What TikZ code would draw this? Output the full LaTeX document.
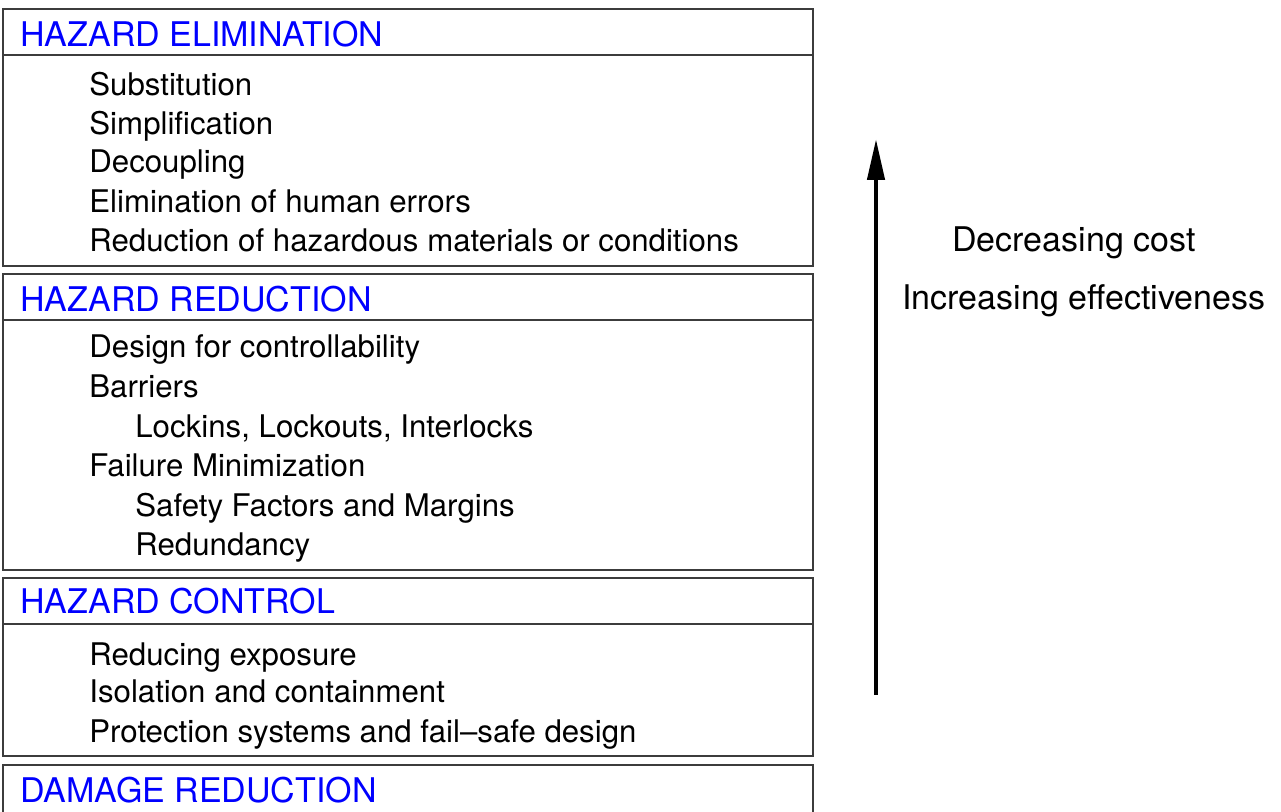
\documentclass[tikz,border=0pt]{standalone}
\usepackage{fontspec}
\setmainfont{TeX Gyre Heros}
\usetikzlibrary{arrows.meta}
\definecolor{levelblue}{RGB}{0,0,255}
\definecolor{framegray}{RGB}{60,60,60}

\tikzset{
  frame/.style={draw=framegray, line width=0.6pt},
  level/.style={levelblue, anchor=base west, inner sep=0pt},
  measure/.style={anchor=base west, inner sep=0pt, font=\fontsize{15.6}{18}\selectfont},
  trend/.style={anchor=base west, inner sep=0pt},
}

\begin{document}
\begin{tikzpicture}[x=0.5pt, y=-0.5pt, font=\fontsize{17}{20}\selectfont]
  \clip (0,0) rectangle (1281,812);

  % the four levels, each a header bar over a list
  \draw[frame] (3,9) rectangle (813,266);
  \draw[frame] (3,55) -- (813,55);
  \draw[frame] (3,274) rectangle (813,570);
  \draw[frame] (3,320) -- (813,320);
  \draw[frame] (3,578) rectangle (813,756);
  \draw[frame] (3,624) -- (813,624);
  \draw[frame] (3,765) rectangle (813,840);

  \node[level] (elim) at (20,47) {HAZARD ELIMINATION};
  \node[measure] (subst) at (89,96) {Substitution};
  \node[measure] (simpl) at (89,135) {Simplification};
  \node[measure] (decoup) at (89,173) {Decoupling};
  \node[measure] (human) at (89,213) {Elimination of human errors};
  \node[measure] (materials) at (89,252) {Reduction of hazardous materials or conditions};

  \node[level] (red) at (20,312) {HAZARD REDUCTION};
  \node[measure] (control) at (89,358) {Design for controllability};
  \node[measure] (barriers) at (89,398) {Barriers};
  \node[measure] (locks) at (135,438) {Lockins, Lockouts, Interlocks};
  \node[measure] (failure) at (89,477) {Failure Minimization};
  \node[measure] (margins) at (135,517) {Safety Factors and Margins};
  \node[measure] (redund) at (135,556) {Redundancy};

  \node[level] (ctrl) at (20,614) {HAZARD CONTROL};
  \node[measure] (exposure) at (89,666) {Reducing exposure};
  \node[measure] (isolation) at (89,703) {Isolation and containment};
  \node[measure] (protect) at (89,742) {Protection systems and fail--safe design};

  \node[level] (damage) at (20,802) {DAMAGE REDUCTION};

  % cost / effectiveness arrow
  \coordinate (low) at (876,695);
  \coordinate (high) at (876,139);
  \draw[-{Triangle[width=8.5pt,length=20.5pt]}, line width=2.2pt] (low) -- (high);
  \node[trend] (cost) at (952,252) {Decreasing cost};
  \node[trend] (effect) at (902,310) {Increasing effectiveness};
\end{tikzpicture}
\end{document}
